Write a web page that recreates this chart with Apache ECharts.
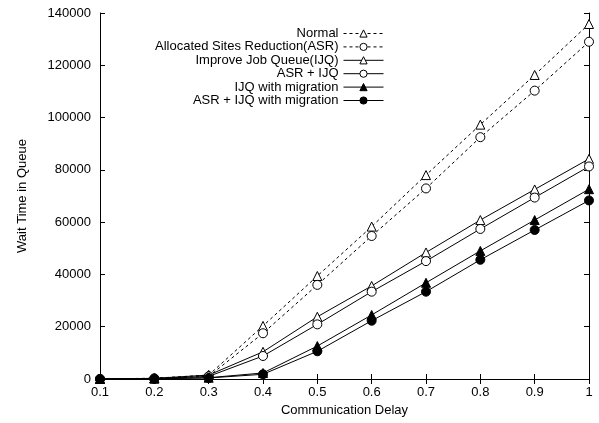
<!DOCTYPE html>
<html><head><meta charset="utf-8">
<script src="https://cdn.jsdelivr.net/npm/echarts@6/dist/echarts.min.js"></script>
<style>html,body{margin:0;padding:0;background:#fff}#c{width:599px;height:423px}</style>
</head><body><div id="c"></div>
<script>
const categories = ['0.1','0.2','0.3','0.4','0.5','0.6','0.7','0.8','0.9','1'];
const yTicks = [0,20000,40000,60000,80000,100000,120000,140000];
const seriesNames = ['Normal','Allocated Sites Reduction(ASR)','Improve Job Queue(IJQ)','ASR + IJQ','IJQ with migration','ASR + IJQ with migration'];
const normal = [0, 300, 1500, 20300, 39400, 58300, 78000, 97300, 116300, 135800];
const asr = [0, 200, 1000, 17500, 36000, 54700, 72900, 92500, 110300, 129000];
const ijq = [0, 250, 1500, 10400, 23800, 35600, 48400, 60800, 72500, 84200];
const asrIjq = [0, 200, 1000, 8800, 20900, 33400, 45100, 57400, 69400, 81300];
const ijqMig = [0, 150, 500, 2300, 12600, 24500, 36800, 49000, 60800, 72600];
const asrIjqMig = [0, 100, 400, 1800, 10600, 22300, 33400, 45600, 57000, 68300];

const FONT = 'Liberation Sans';
const FS = 13;
const chart = echarts.init(document.getElementById('c'), null, {renderer:'canvas'});
function mk(name, data, dashed, symbol, filled){
  return {
    name, type:'line', data, symbol, symbolSize: 9,
    showAllSymbol:true, animation:false,
    lineStyle:{color:'#000', width:1, type: dashed ? [3,3] : 'solid'},
    itemStyle:{color: filled ? '#000' : '#fff', borderColor:'#000', borderWidth:1},
    emphasis:{disabled:true}
  };
}
const option = {
  backgroundColor:'#fff',
  animation:false,
  textStyle:{fontFamily:FONT},
  grid:{left:100, right:10, top:13, bottom:44},
  legend:{
    orient:'vertical', right:210, top:22, align:'right',
    itemWidth:40, itemHeight:9, itemGap:0.4,
    lineStyle:{width:1},
    itemStyle:{borderWidth:1},
    textStyle:{fontFamily:FONT, fontSize:FS, lineHeight:13, color:'#000'},
    data: seriesNames
  },
  xAxis:[{
    type:'category', data:categories, boundaryGap:false,
    name:'Communication Delay', nameLocation:'middle', nameGap:25,
    nameTextStyle:{fontFamily:FONT, fontSize:FS, color:'#000'},
    axisLine:{lineStyle:{color:'#000', width:1}},
    axisTick:{inside:true, length:5, alignWithLabel:true, lineStyle:{color:'#000'}},
    axisLabel:{fontFamily:FONT, fontSize:FS, color:'#000', margin:7},
    splitLine:{show:false}
  },{
    type:'category', data:categories, boundaryGap:false, position:'top',
    axisLine:{lineStyle:{color:'#000', width:1}},
    axisTick:{inside:true, length:5, lineStyle:{color:'#000'}},
    axisLabel:{show:false}, splitLine:{show:false}
  }],
  yAxis:[{
    type:'value', min:yTicks[0], max:yTicks[yTicks.length-1], interval:yTicks[1]-yTicks[0],
    name:'Wait Time in Queue', nameLocation:'middle', nameGap:71,
    nameTextStyle:{fontFamily:FONT, fontSize:FS, color:'#000'},
    axisLine:{show:true, lineStyle:{color:'#000', width:1}},
    axisTick:{show:true, inside:true, length:5, lineStyle:{color:'#000'}},
    axisLabel:{fontFamily:FONT, fontSize:FS, color:'#000', margin:9, formatter: v => String(v)},
    splitLine:{show:false}
  },{
    type:'value', min:yTicks[0], max:yTicks[yTicks.length-1], interval:yTicks[1]-yTicks[0], position:'right',
    axisLine:{show:true, lineStyle:{color:'#000', width:1}},
    axisTick:{show:true, inside:true, length:5, lineStyle:{color:'#000'}},
    axisLabel:{show:false}, splitLine:{show:false}
  }],
  series:[
    mk(seriesNames[0], normal, true, 'triangle', false),
    mk(seriesNames[1], asr, true, 'circle', false),
    mk(seriesNames[2], ijq, false, 'triangle', false),
    mk(seriesNames[3], asrIjq, false, 'circle', false),
    mk(seriesNames[4], ijqMig, false, 'triangle', true),
    mk(seriesNames[5], asrIjqMig, false, 'circle', true)
  ]
};
chart.setOption(option);
</script></body></html>
